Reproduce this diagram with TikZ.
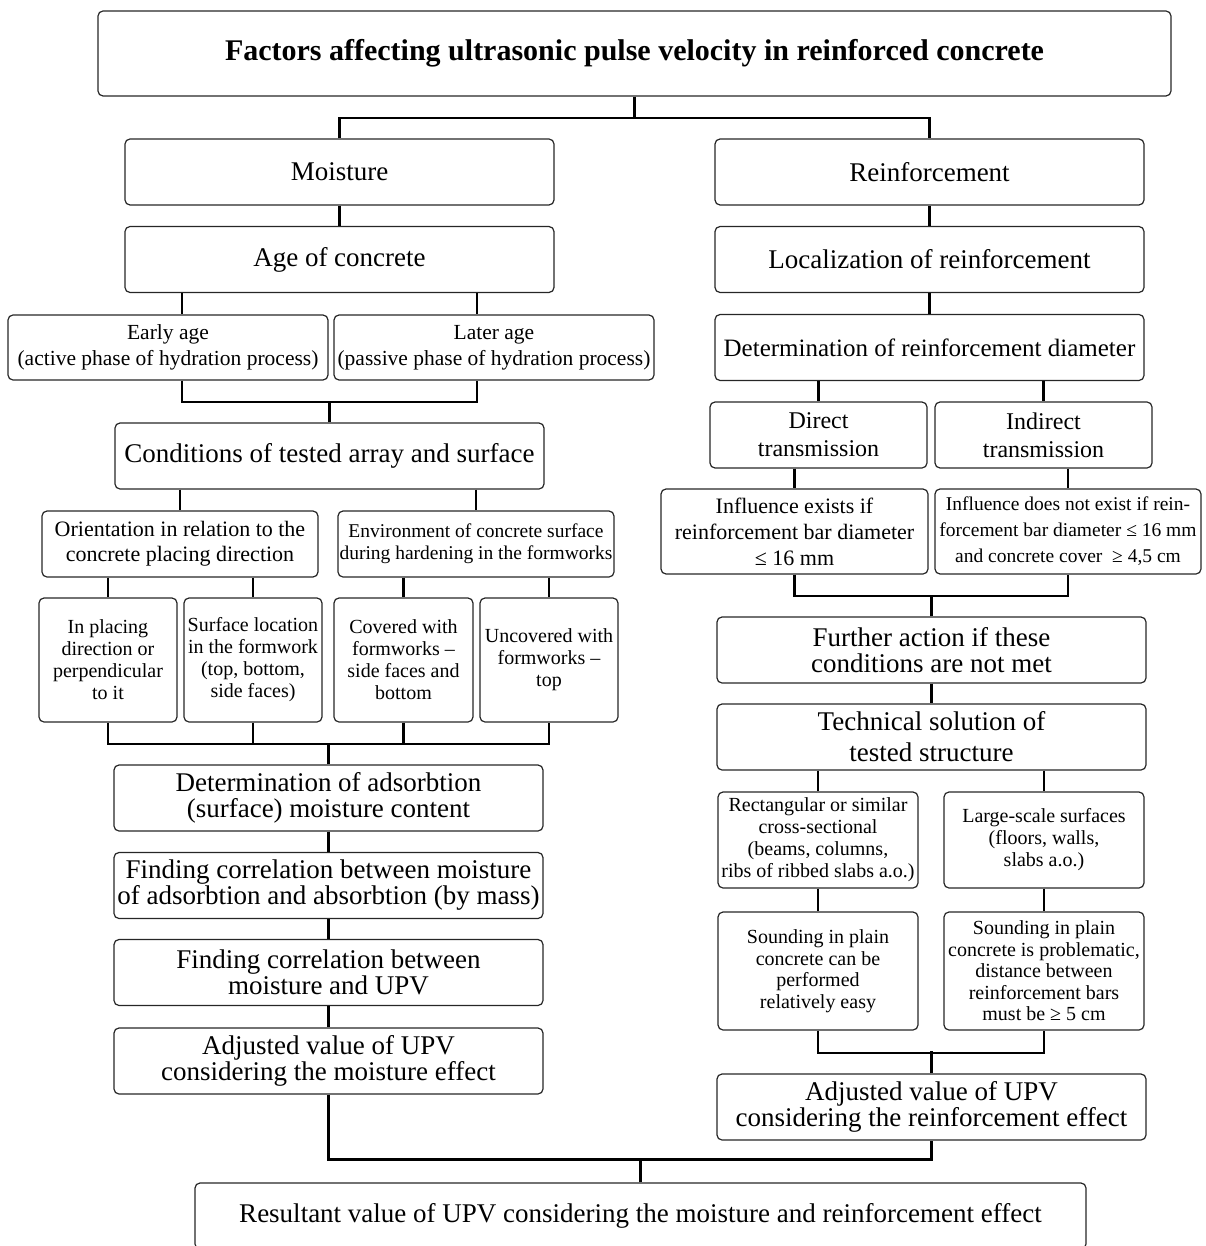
\documentclass[tikz,border=0pt]{standalone}
\usepackage{fontspec}
\setmainfont{Liberation Serif}
\usepackage{tikz}
\usetikzlibrary{calc, positioning}
\tikzset{
    boxnode/.style = {draw=black!85, rectangle, rounded corners=5pt, line width=1.2pt, 
      inner sep=0.5pt, node distance=0em, align=center},
    titlenode/.style = {boxnode, minimum width=1073pt, minimum height=85pt, 
      font=\fontsize{30}{32}\selectfont\bfseries},
    bigbox/.style = {boxnode, minimum width=429pt, minimum height=66pt, font=\fontsize{27}{26}\selectfont},
    dirbox/.style = {boxnode, minimum width=217pt, minimum height=66pt, font=\fontsize{24}{28}\selectfont},
    midbox/.style = {boxnode, font=\fontsize{22}{26}\selectfont},
    smallbox/.style = {boxnode, font=\fontsize{20}{22}\selectfont},
    connect/.style = {black, line width=2.2pt},
    every text node part/.style={align=center}
}

\begin{document}
\begin{tikzpicture}
    \useasboundingbox (-634.5pt,53.5pt) rectangle (570.5pt,-1192.5pt);
    \node [name=title, titlenode] at (0,0) {Factors affecting ultrasonic pulse velocity in reinforced concrete};

    % moisture branch
    \node [name=moist, bigbox, below of = title, xshift=-295pt, yshift=-118.5pt] {Moisture};
    \node [name=age, bigbox, below of = moist, yshift=-87.5pt] {Age of concrete};
    \node [name=early, midbox, below of = age, xshift=-171.5pt, yshift=-88pt, minimum width=320pt, 
      minimum height=65pt, font=\fontsize{21.5}{26}\selectfont] {Early age\\(active phase of hydration process)};
    \node [name=later, midbox, right of = early, xshift=326pt, minimum width=320pt, 
      minimum height=65pt, font=\fontsize{21.5}{26}\selectfont] {Later age\\(passive phase of hydration process)};
    \node [name=cond, bigbox, below of = age, xshift=-10pt, yshift=-196.5pt] {Conditions of tested array and surface};
    \node [name=orient, midbox, below of = cond, xshift=-149.5pt, yshift=-88pt, minimum width=276pt, 
      minimum height=66pt, font=\fontsize{22}{25}\selectfont] {Orientation in relation to the\\concrete placing direction};
    \node [name=environ, smallbox, right of = orient, xshift=296pt, minimum width=276pt, 
      minimum height=66pt, font=\fontsize{19.5}{22}\selectfont] {Environment of concrete surface\\during hardening in the formworks};
    \node [name=placing, smallbox, below of = orient, xshift=-72pt, yshift=-116pt, minimum width=138pt, 
      minimum height=124pt] {In placing\\direction or\\perpendicular\\to it};
    \node [name=surface, smallbox, right of = placing, xshift=145pt, minimum width=138pt, 
      minimum height=124pt] {Surface location\\in the formwork\\(top, bottom,\\side faces)};
    \node [name=covered, smallbox, below of = environ, xshift=-72.5pt, yshift=-116pt, minimum width=139pt, 
      minimum height=124pt] {Covered with\\formworks –\\side faces and\\bottom};
    \node [name=uncovered, smallbox, right of = covered, xshift=145.5pt, minimum width=138pt, 
      minimum height=124pt] {Uncovered with\\formworks –\\top};
    \node [name=adsorb, bigbox, below of = cond, xshift=-1pt, yshift=-342pt] {Determination of adsorbtion\\(surface) moisture content};
    \node [name=mass, bigbox, below of = adsorb, yshift=-87.5pt] {Finding correlation between moisture\\of adsorbtion and absorbtion (by mass)};
    \node [name=upvcorr, bigbox, below of = mass, yshift=-87pt] {Finding correlation between\\moisture and UPV};
    \node [name=adjmoist, bigbox, below of = upvcorr, yshift=-88.5pt] {Adjusted value of UPV\\considering the moisture effect};

    % reinforcement branch
    \node [name=reinf, bigbox, right of = moist, xshift=590pt] {Reinforcement};
    \node [name=local, bigbox, below of = reinf, yshift=-87.5pt] {Localization of reinforcement};
    \node [name=diam, bigbox, below of = local, yshift=-88pt, font=\fontsize{25}{26}\selectfont] {Determination of reinforcement diameter};
    \node [name=direct, dirbox, below of = diam, xshift=-111pt, yshift=-87.5pt] {Direct\\transmission};
    \node [name=indirect, dirbox, right of = direct, xshift=225pt] {Indirect\\transmission};
    \node [name=exists, midbox, below of = direct, xshift=-24pt, yshift=-96.5pt, minimum width=267pt, 
      minimum height=85pt] {Influence exists if\\reinforcement bar diameter\\≤ 16 mm};
    \node [name=notexist, smallbox, right of = exists, xshift=273.5pt, minimum width=266pt, 
      minimum height=85pt, font=\fontsize{19.5}{26}\selectfont] {Influence does not exist if rein-\\forcement bar diameter ≤ 16 mm\\and concrete cover \ ≥ 4,5 cm};
    \node [name=further, bigbox, below of = exists, xshift=137pt, yshift=-118.5pt] {Further action if these\\conditions are not met};
    \node [name=technical, bigbox, below of = further, yshift=-87pt, font=\fontsize{27}{31}\selectfont] {Technical solution of\\tested structure};
    \node [name=rect, smallbox, below of = technical, xshift=-113.5pt, yshift=-103pt, minimum width=200pt, 
      minimum height=96pt] {Rectangular or similar\\cross-sectional\\(beams, columns,\\ribs of ribbed slabs a.o.)};
    \node [name=large, smallbox, right of = rect, xshift=226pt, minimum width=200pt, 
      minimum height=96pt] {Large-scale surfaces\\(floors, walls,\\slabs a.o.)};
    \node [name=easy, smallbox, below of = rect, yshift=-131pt, minimum width=200pt, 
      minimum height=118pt, font=\fontsize{20}{21.5}\selectfont] {Sounding in plain\\concrete can be\\performed\\relatively easy};
    \node [name=problem, smallbox, below of = large, yshift=-131pt, minimum width=200pt, 
      minimum height=118pt, font=\fontsize{20}{21.5}\selectfont] {Sounding in plain\\concrete is problematic,\\distance between\\reinforcement bars\\must be ≥ 5 cm};
    \node [name=adjreinf, bigbox, below of = technical, yshift=-370pt] {Adjusted value of UPV\\considering the reinforcement effect};

    \node [name=result, bigbox, below of = adjmoist, xshift=312pt, yshift=-155pt, minimum width=891pt] {Resultant value of UPV considering the moisture and reinforcement effect};

    % connectors
    \draw[connect] (title.south) -- ++(0,-21.5pt);
    \draw[connect] (moist.north) |- ([yshift=-21.5pt]title.south) -| (reinf.north);
    \draw (moist) edge[connect] (age);
    \draw[connect] ([xshift=-157.5pt]age.south) -- ([xshift=-157.5pt]age.south |- early.north);
    \draw[connect] ([xshift=137.5pt]age.south) -- ([xshift=137.5pt]age.south |- later.north);
    \draw[connect] ([xshift=14pt]early.south) -- ++(0,-21.5pt) -| ([xshift=-17pt]later.south);
    \draw[connect] (cond.north) -- ++(0,21.5pt);
    \draw[connect] (cond.south -| orient.north) -- (orient.north);
    \draw[connect] (cond.south -| environ.north) -- (environ.north);
    \draw[connect] (orient.south -| placing.north) -- (placing.north);
    \draw[connect] (orient.south -| surface.north) -- (surface.north);
    \draw[connect] (environ.south -| covered.north) -- (covered.north);
    \draw[connect] (environ.south -| uncovered.north) -- (uncovered.north);
    \draw[connect] (placing.south) -- ++(0,-21.5pt) -| (uncovered.south);
    \draw[connect] (surface.south) -- ++(0,-21.5pt);
    \draw[connect] (covered.south) -- ++(0,-21.5pt);
    \draw[connect] (adsorb.north) -- ++(0,21.5pt);
    \draw (adsorb) edge[connect] (mass);
    \draw (mass) edge[connect] (upvcorr);
    \draw (upvcorr) edge[connect] (adjmoist);

    \draw (reinf) edge[connect] (local);
    \draw (local) edge[connect] (diam);
    \draw[connect] (diam.south -| direct.north) -- (direct.north);
    \draw[connect] (diam.south -| indirect.north) -- (indirect.north);
    \draw[connect] (direct.south -| exists.north) -- (exists.north);
    \draw[connect] (indirect.south -| notexist.north) -- (notexist.north);
    \draw[connect] (exists.south) -- ++(0,-21.5pt) -| (notexist.south);
    \draw[connect] (further.north) -- ++(0,21.5pt);
    \draw (further) edge[connect] (technical);
    \draw[connect] (technical.south -| rect.north) -- (rect.north);
    \draw[connect] (technical.south -| large.north) -- (large.north);
    \draw (rect) edge[connect] (easy);
    \draw (large) edge[connect] (problem);
    \draw[connect] (easy.south) -- ++(0,-22pt) -| (problem.south);
    \draw[connect] (adjreinf.north) -- ++(0,22pt);

    \draw[connect] (adjmoist.south) |- ([yshift=23pt]result.north) -| (adjreinf.south);
    \draw[connect] (result.north) -- ++(0,23pt);
\end{tikzpicture}
\end{document}
